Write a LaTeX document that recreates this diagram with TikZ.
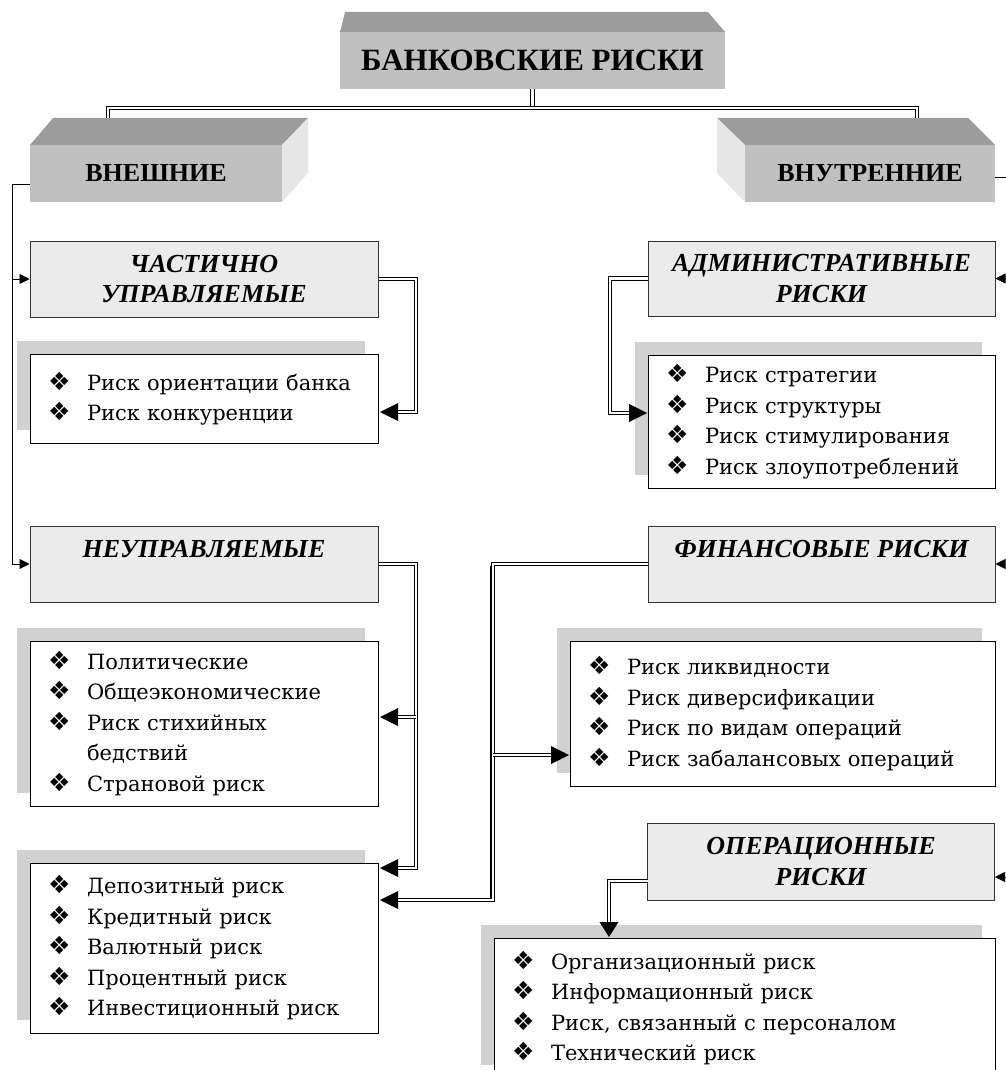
\documentclass[tikz,border=0pt]{standalone}
\usepackage{fontspec}
\setmainfont{Liberation Serif}
\newfontfamily\rkitemfont{DejaVu Serif}
\newfontfamily\rksymfont{DejaVu Sans}
\usetikzlibrary{arrows.meta,shadows}
\definecolor{frontgray}{HTML}{C0C0C0}
\definecolor{topgray}{HTML}{9C9C9C}
\definecolor{sidegray}{HTML}{E6E6E6}
\definecolor{hdrgray}{HTML}{EBEBEB}
\newcommand\rkit[1]{\hspace*{18pt}\makebox[39pt][l]{\rksymfont\fontsize{25}{25}\selectfont ❖}\mbox{#1}}
\newcommand\rkcont[1]{\hspace*{57pt}\mbox{#1}}
\newcommand\tipleft[1]{\fill (#1) -- ++(18,-9) -- ++(0,18) -- cycle;}
\newcommand\tipright[1]{\fill (#1) -- ++(-18,-9) -- ++(0,18) -- cycle;}
\newcommand\tipdown[1]{\fill (#1) -- ++(-9.5,-15) -- ++(19,0) -- cycle;}
\begin{document}
\begin{tikzpicture}[x=1pt,y=-1pt,
  front/.style={fill=frontgray, draw=none, inner sep=0pt, font=\fontsize{26}{30}\selectfont\bfseries},
  hdr/.style={draw=black!80, line width=1pt, fill=hdrgray, inner sep=0pt, align=center,
    font=\fontsize{26}{30.5}\selectfont\bfseries\itshape},
  lst/.style={draw=black, line width=1pt, fill=white, inner sep=0pt, align=left,
    font=\rkitemfont\fontsize{21}{30.5}\selectfont,
    general shadow={fill=black!18, shadow xshift=-13pt, shadow yshift=13pt}},
  dbl/.style={draw=black, double=white, line width=0.75pt, double distance=2.6pt},
  thinln/.style={draw=black, line width=0.8pt},
  tip/.style={-{Triangle[length=10pt,width=10pt]}}
]
\useasboundingbox (0,0) rectangle (1005,1070);
\fill[white] (0,0) rectangle (1005,1070);

% 3D header blocks
\fill[topgray] (340,32) -- (345,12) -- (708,12) -- (725,32) -- cycle;
\node[front, minimum width=385pt, minimum height=57pt, font=\fontsize{31}{35}\selectfont\bfseries] (title) at (532.5,60.5) {БАНКОВСКИЕ РИСКИ};

\fill[topgray] (30,145) -- (53,118) -- (308,118) -- (282,145) -- cycle;
\fill[sidegray] (282,145) -- (308,118) -- (308,173) -- (282,202) -- cycle;
\node[front, minimum width=252pt, minimum height=57pt] (ext) at (156,173.5) {ВНЕШНИЕ};

\fill[topgray] (745,145) -- (717,118) -- (968,118) -- (995,145) -- cycle;
\fill[sidegray] (745,145) -- (717,118) -- (717,173) -- (745,202) -- cycle;
\node[front, minimum width=250pt, minimum height=57pt] (int) at (870,173.5) {ВНУТРЕННИЕ};

% sub-headers
\node[hdr, minimum width=348pt, minimum height=76pt] (part) at (204,279) {ЧАСТИЧНО\\УПРАВЛЯЕМЫЕ};
\node[hdr, minimum width=347pt, minimum height=75pt] (adm) at (821.5,278.5) {АДМИНИСТРАТИВНЫЕ\\РИСКИ};
\node[hdr, minimum width=348pt, minimum height=76pt] (unman) at (204,564) {НЕУПРАВЛЯЕМЫЕ\\\mbox{}};
\node[hdr, minimum width=347pt, minimum height=76pt] (fin) at (821.5,564) {ФИНАНСОВЫЕ РИСКИ\\\mbox{}};
\node[hdr, minimum width=347pt, minimum height=77pt] (oper) at (821,861.5) {ОПЕРАЦИОННЫЕ\\РИСКИ};

% lists
\node[lst, text width=348pt, minimum height=89pt] (b1) at (204,398.5)
  {\rkit{Риск ориентации банка}\\\rkit{Риск конкуренции}};
\node[lst, text width=347pt, minimum height=133pt] (admL) at (821.5,421.5)
  {\rkit{Риск стратегии}\\\rkit{Риск структуры}\\\rkit{Риск стимулирования}\\\rkit{Риск злоупотреблений}};
\node[lst, text width=348pt, minimum height=165pt] (b2) at (204,723.5)
  {\rkit{Политические}\\\rkit{Общеэкономические}\\\rkit{Риск стихийных}\\\rkcont{бедствий}\\\rkit{Страновой риск}};
\node[lst, text width=425pt, minimum height=145pt] (b4) at (782.5,713.5)
  {\rkit{Риск ликвидности}\\\rkit{Риск диверсификации}\\\rkit{Риск по видам операций}\\\rkit{Риск забалансовых операций}};
\node[lst, text width=348pt, minimum height=170pt] (b3) at (204,948)
  {\rkit{Депозитный риск}\\\rkit{Кредитный риск}\\\rkit{Валютный риск}\\\rkit{Процентный риск}\\\rkit{Инвестиционный риск}};
\node[lst, text width=501pt, minimum height=140pt] (b5) at (744.5,1008)
  {\rkit{Организационный риск}\\\rkit{Информационный риск}\\\rkit{Риск, связанный с персоналом}\\\rkit{Технический риск}};

% title connectors
\coordinate (hub) at (532.5,108);
\coordinate (extop) at (108,118);
\coordinate (intop) at (917,118);
\draw[dbl] (title.south) -- (hub);
\draw[dbl] (hub) -| (extop);
\draw[dbl] (hub) -| (intop);

% external bus
\coordinate (exL) at (30,184);
\coordinate (exbus) at (12,184);
\draw[thinln, tip] (exL) -- (exbus) |- (part.west);
\draw[thinln, tip] (exbus) |- (unman.west);

% internal bus (runs off the right edge)
\coordinate (inR) at (995,177);
\coordinate (inbus) at (1018,177);
\coordinate (operR) at (995,877);
\draw[thinln, tip] (inR) -- (inbus) |- (adm.east);
\draw[thinln, tip] (inbus) |- (fin.east);
\draw[thinln, tip] (inbus) |- (operR);

% partially controllable -> list
\coordinate (pbus) at (416,279);
\coordinate (b1R) at (380,412);
\draw[dbl, shorten >=17pt] (part.east) -- (pbus) |- (b1R);

% uncontrollable -> lists
\coordinate (ubus) at (416,564);
\coordinate (ubr) at (416,717);
\coordinate (b2R) at (380,717);
\coordinate (b3Ra) at (380,868);
\draw[dbl, shorten >=17pt] (unman.east) -- (ubus) |- (b3Ra);
\draw[dbl, shorten >=17pt] (ubr) -- (b2R);

% financial -> lists
\coordinate (fbus) at (493,564);
\coordinate (fbr) at (493,755);
\coordinate (b4L) at (569,755);
\coordinate (b3Rb) at (380,900);
\coordinate (fth1) at (491,566);
\coordinate (fth2) at (491,898);
\draw[dbl, shorten >=17pt] (fin.west) -- (fbus) |- (b3Rb);
\draw[dbl, shorten >=17pt] (fbr) -- (b4L);
\draw[line width=1.6pt] (fth1) -- (fth2);

% administrative -> list
\coordinate (abus) at (610,278.5);
\coordinate (aL) at (647,413);
\draw[dbl, shorten >=17pt] (adm.west) -- (abus) |- (aL);

% operational -> list
\coordinate (operL) at (647.5,881);
\coordinate (obus) at (609,881);
\coordinate (b5T) at (609,937);
\draw[dbl, shorten >=15pt] (operL) -- (obus) -- (b5T);

% arrowheads
\tipleft{b1R}
\tipleft{b2R}
\tipleft{b3Ra}
\tipleft{b3Rb}
\tipright{b4L}
\tipright{aL}
\tipdown{b5T}
\end{tikzpicture}
\end{document}
